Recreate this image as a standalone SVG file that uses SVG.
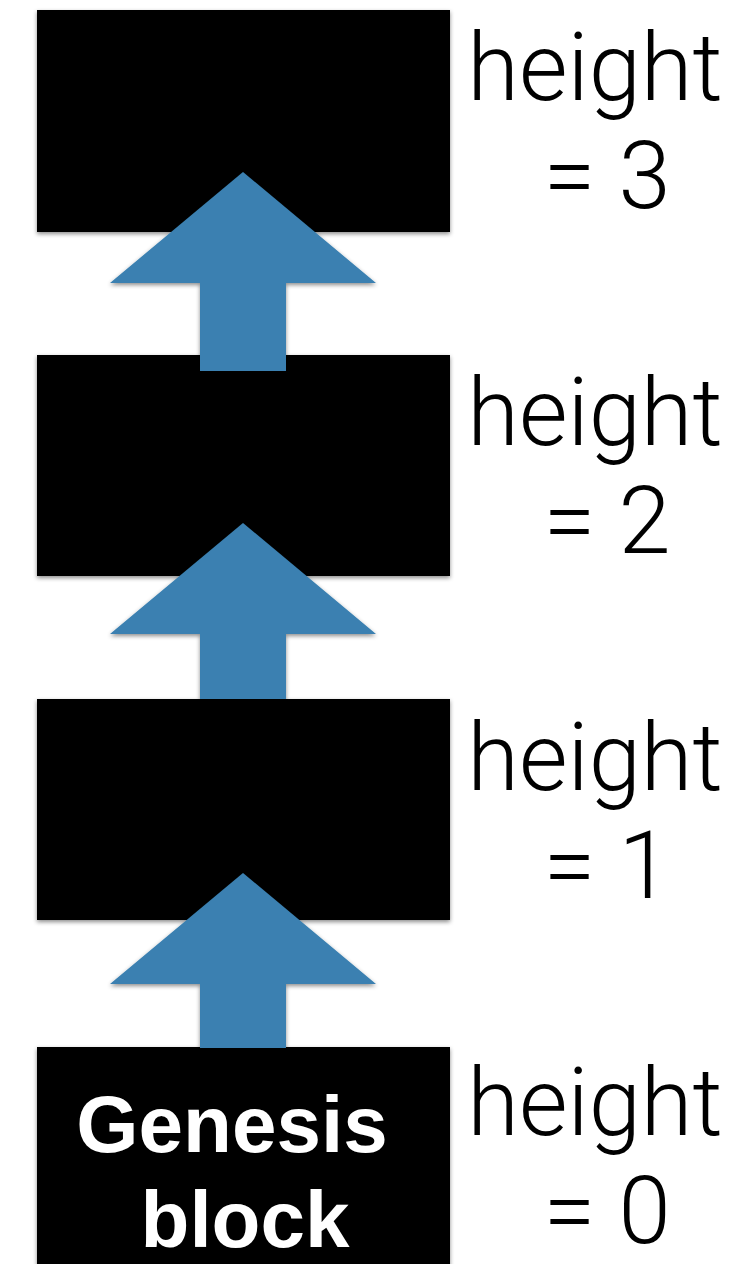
<svg xmlns="http://www.w3.org/2000/svg" width="740" height="1264" viewBox="0 0 740 1264">
<defs>
<filter id="sh" x="-10%" y="-10%" width="120%" height="130%">
<feDropShadow dx="0" dy="2" stdDeviation="2" flood-color="#000" flood-opacity="0.45"/>
</filter>
</defs>
<style>
.blk{fill:#000;filter:url(#sh)}
.arr{fill:#3A80B1;filter:url(#sh)}
.lbl{font-family:"Roboto","Liberation Sans",sans-serif;font-weight:300;font-size:94px;fill:#000;text-anchor:middle}
.gen{font-family:"Liberation Sans",Arial,sans-serif;font-weight:bold;font-size:80px;fill:#fff;text-anchor:middle}
</style>
<rect width="740" height="1264" fill="#fff"/>
<g id="block3"><rect class="blk" x="37" y="10" width="413" height="222"/></g>
<g id="block2"><rect class="blk" x="37" y="355" width="413" height="221"/></g>
<g id="block1"><rect class="blk" x="37" y="699" width="413" height="221"/></g>
<g id="block0"><rect class="blk" x="37" y="1047" width="413" height="230"/>
<text class="gen" x="232" y="1152">Genesis</text>
<text class="gen" x="245" y="1247">block</text></g>
<g id="connectors">
<polygon class="arr" points="243,172 376,283 286,283 286,371 200,371 200,283 110,283"/>
<polygon class="arr" points="243,523 376,634 286,634 286,699 200,699 200,634 110,634"/>
<polygon class="arr" points="243,873 376,984 286,984 286,1048 200,1048 200,984 110,984"/>
</g>
<g id="label3"><text class="lbl" x="595" y="100">height</text><text class="lbl" x="607" y="208">= 3</text></g>
<g id="label2"><text class="lbl" x="595" y="445">height</text><text class="lbl" x="607" y="553">= 2</text></g>
<g id="label1"><text class="lbl" x="595" y="790">height</text><text class="lbl" x="607" y="898">= 1</text></g>
<g id="label0"><text class="lbl" x="595" y="1135">height</text><text class="lbl" x="607" y="1243">= 0</text></g>
</svg>
